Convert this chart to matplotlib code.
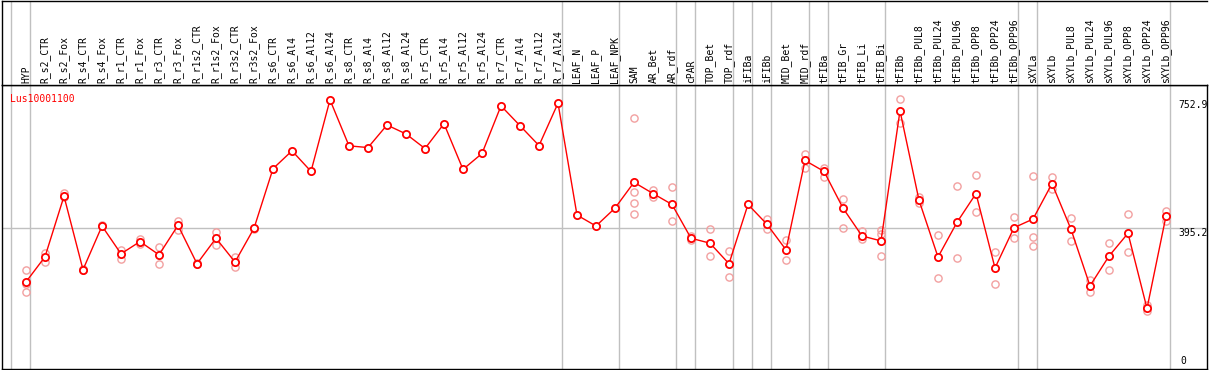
import numpy as np
import matplotlib.pyplot as plt
import matplotlib.transforms as mtransforms

gene = "Lus10001100"

samples = [
    "HYP", "R_s2_CTR", "R_s2_Fox", "R_s4_CTR", "R_s4_Fox", "R_r1_CTR", "R_r1_Fox",
    "R_r3_CTR", "R_r3_Fox", "R_r1s2_CTR", "R_r1s2_Fox", "R_r3s2_CTR", "R_r3s2_Fox",
    "R_s6_CTR", "R_s6_Al4", "R_s6_Al12", "R_s6_Al24", "R_s8_CTR", "R_s8_Al4",
    "R_s8_Al12", "R_s8_Al24", "R_r5_CTR", "R_r5_Al4", "R_r5_Al12", "R_r5_Al24",
    "R_r7_CTR", "R_r7_Al4", "R_r7_Al12", "R_r7_Al24", "LEAF_N", "LEAF_P", "LEAF_NPK",
    "SAM", "AR_Bet", "AR_rdf", "cPAR", "TOP_Bet", "TOP_rdf", "iFIBa", "iFIBb",
    "MID_Bet", "MID_rdf", "tFIBa", "tFIB_Gr", "tFIB_Li", "tFIB_Bi", "tFIBb",
    "tFIBb_PUL8", "tFIBb_PUL24", "tFIBb_PUL96", "tFIBb_OPP8", "tFIBb_OPP24",
    "tFIBb_OPP96", "sXYLa", "sXYLb", "sXYLb_PUL8", "sXYLb_PUL24", "sXYLb_PUL96",
    "sXYLb_OPP8", "sXYLb_OPP24", "sXYLb_OPP96",
]

means = [
    243.6, 313.9, 483.3, 277.8, 400.0, 322.2, 356.4, 319.4, 401.9, 294.4, 365.8,
    299.2, 393.6, 560.3, 610.3, 552.8, 752.9, 624.2, 619.4, 682.5, 657.5, 616.7,
    686.1, 558.3, 602.8, 736.1, 680.6, 625.0, 743.6, 430.6, 400.0, 450.0, 522.2,
    490.8, 460.3, 365.8, 351.9, 294.4, 460.3, 404.7, 333.3, 583.3, 552.8, 450.0,
    372.2, 358.3, 722.2, 472.2, 313.1, 410.3, 490.8, 282.5, 395.3, 419.4, 518.6,
    390.8, 232.5, 315.8, 379.7, 169.4, 427.8,
]

# individual replicates (pale circles)
replicates = [
    [276.9, 238.9, 215.8], [325.8, 298.1], [492.5, 480.6], [280.0, 276.0],
    [400.0, 402.0], [332.5, 308.3], [364.7, 350.0], [340.8, 294.4], [414.7, 388.9],
    [296.0, 293.0], [382.5, 347.2], [311.9, 284.2], [395.0, 392.0],
    [], [], [], [], [], [], [], [], [], [], [], [], [], [], [], [],
    [], [], [],
    [701.9, 494.4, 463.0, 432.5], [500.8, 481.4], [510.3, 413.9], [372.2, 361.1],
    [391.7, 316.7], [329.7, 258.3], [], [420.3, 390.8], [361.1, 304.7],
    [600.0, 563.1], [563.1, 536.1], [476.9, 394.4], [385.3, 363.1],
    [388.9, 377.8, 316.7], [754.7, 688.0], [481.4, 463.0], [375.0, 254.7],
    [513.0, 311.1], [543.6, 438.1], [326.9, 238.9], [424.2, 366.7],
    [540.8, 369.4, 343.6], [536.1, 502.8], [422.2, 357.5], [250.0, 215.8],
    [351.9, 276.9], [432.5, 326.9], [177.8, 161.9], [442.5, 414.7],
]

# last sample index of each group (gray separators)
group_ends = [-1, 0, 28, 31, 34, 35, 37, 38, 39, 41, 42, 45, 52, 53, 60]
ytick_values = [0, 395.2, 752.9]

W, H = 1209, 370
fig = plt.figure(figsize=(W / 100, H / 100), dpi=100)


def box(x0, y0, x1, y1):
    # pixel box -> figure fraction rect
    return [x0 / W, 1 - y1 / H, (x1 - x0) / W, (y1 - y0) / H]


ax = fig.add_axes(box(2, 85, 1207, 369))
top = fig.add_axes(box(2, 0.5, 1207, 85), sharex=ax)

x = np.arange(len(samples))
ax.set_xlim(-24 / 19, 60 + 41 / 19)
ax.set_ylim(0, 794.4)
top.set_ylim(0, 1)

grid = "#c0c0c0"
for g in group_ends:
    ax.axvline(g + 0.21, color=grid, lw=1, zorder=0)
    top.axvline(g + 0.21, color=grid, lw=1, zorder=0)
ax.axhline(ytick_values[1], color=grid, lw=1, zorder=0)

for i, reps in enumerate(replicates):
    ax.plot([i] * len(reps), reps, "o", mfc="none", mec="#f2a0a0", ms=5.2, mew=1, zorder=2)

ax.plot(x, means, "-", color="red", lw=1, marker="o", mfc="white", mec="red",
        ms=5.2, mew=1.3, zorder=3)

mono = "DejaVu Sans Mono"
lab_tr = mtransforms.blended_transform_factory(top.transData, top.transAxes)
for i, s in enumerate(samples):
    top.text(i, 0.02, s, rotation=90, ha="center", va="bottom", fontsize=7,
             family=mono, transform=lab_tr)

ax.text(0.0065, 0.97, gene, color="red", fontsize=7, family=mono,
        transform=ax.transAxes, ha="left", va="top")

tick_tr = mtransforms.blended_transform_factory(ax.transAxes, ax.transData)
for v in ytick_values:
    txt = f"{v:g}"
    if v == 0:
        ax.annotate(txt, (0.9775, v), xycoords=tick_tr, xytext=(0, 3),
                    textcoords="offset pixels", fontsize=7, family=mono,
                    ha="left", va="bottom")
    else:
        ax.text(0.9763, v, txt, transform=tick_tr, fontsize=7, family=mono,
                ha="left", va="top")

for a in (ax, top):
    a.set_xticks([])
    a.set_yticks([])
    for sp in a.spines.values():
        sp.set_linewidth(1)
        sp.set_color("black")
top.spines["right"].set_visible(False)

fig.savefig("out.png", dpi=100)
